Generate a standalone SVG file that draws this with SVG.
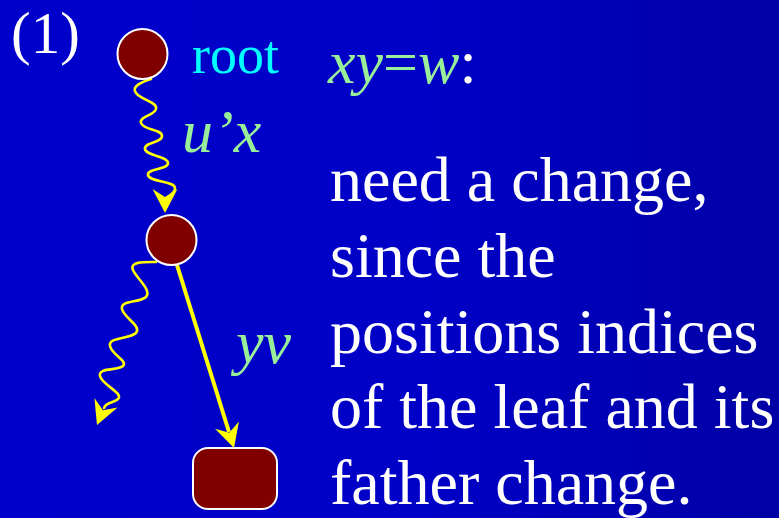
<svg xmlns="http://www.w3.org/2000/svg" width="779" height="518" viewBox="0 0 779 518">
<defs>
<linearGradient id="bg" x1="0" y1="0" x2="1" y2="0">
<stop offset="0" stop-color="#0000CC"/>
<stop offset="0.55" stop-color="#0000C6"/>
<stop offset="1" stop-color="#0000A6"/>
</linearGradient>
<polygon id="head" points="0,0 -24,-12.5 -16,0 -24,12.5" fill="#FFFF00"/>
</defs>
<style>
.t{font-family:"Liberation Serif","Times New Roman",serif;}
.w{fill:#FFFFFF;font-size:64px;}
.g{fill:#99EE99;font-style:italic;}
.node{fill:#800000;stroke:#FFFFFF;stroke-width:2;}
.wave{fill:none;stroke:#FFFF00;stroke-width:2.6;stroke-linecap:round;}
.line{fill:none;stroke:#FFFF00;stroke-width:4;}
</style>
<rect x="0" y="0" width="779" height="518" fill="url(#bg)"/>
<g id="connectors">
<path class="wave" d="M151,79 C141,82 131,87 136,93 C141,100 158,102 156,109 C154,116 139,116 141,123 C143,130 162,129 162,136 C162,143 144,142 145,149 C146,156 168,156 168,163 C168,170 147,168 148,175 C149,182 175,181 175,188 C175,194 168,196 165,200"/>
<use href="#head" transform="translate(165,213) rotate(90)"/>
<path class="wave" d="M156,262 C146,262 129,261 133,270 C137,279 152,290 146,297 C140,303 120,300 122,309 C124,318 142,326 136,333 C130,339 108,337 110,346 C112,355 128,361 123,366 C118,371 98,367 100,376 C102,385 124,393 118,399 C114,403 106,402 104,408"/>
<use href="#head" transform="translate(97,425) rotate(112)"/>
<line class="line" x1="177" y1="265" x2="229" y2="432"/>
<use href="#head" transform="translate(234,448) rotate(73)"/>
</g>
<g id="root">
<circle class="node" cx="142.5" cy="54" r="25"/>
</g>
<g id="mid">
<circle class="node" cx="171.5" cy="240" r="25"/>
</g>
<g id="leaf">
<rect class="node" x="193" y="448" width="84" height="61" rx="15" ry="15"/>
</g>
<g id="labels">
<text class="t" x="11" y="53" fill="#FFFFFF" font-size="59">(1)</text>
<text class="t" x="192" y="73" fill="#00FFFF" font-size="54">root</text>
<text class="t g" x="182" y="152" font-size="62">u’x</text>
<text class="t g" x="236" y="363" font-size="62">yv</text>
<text class="t" x="328" y="83" font-size="62"><tspan class="g">xy</tspan><tspan fill="#99EE99">=</tspan><tspan class="g">w</tspan><tspan fill="#FFFFFF">:</tspan></text>
<text class="t w" x="330" y="201">need a change,</text>
<text class="t w" x="330" y="277">since the</text>
<text class="t w" x="330" y="353">positions indices</text>
<text class="t w" x="330" y="428">of the leaf and its</text>
<text class="t w" x="330" y="504">father change.</text>
</g>
</svg>
